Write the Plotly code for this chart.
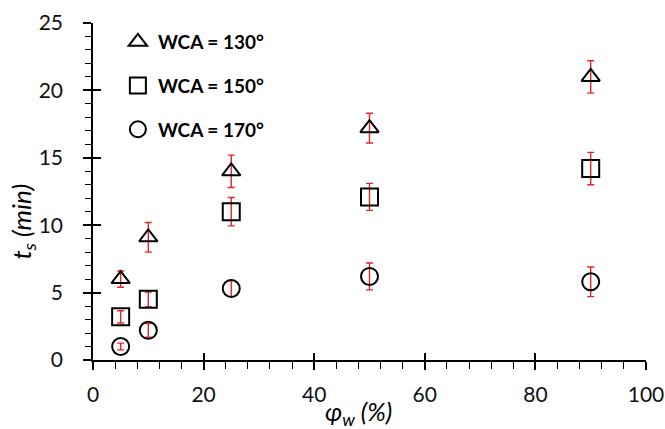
import plotly.graph_objects as go

# ---- data ----
phi_w = [5, 10, 25, 50, 90]
series_names = ["WCA = 130°", "WCA = 150°", "WCA = 170°"]
ts_130 = [6.0, 9.1, 14.0, 17.2, 21.0]
err_130 = [0.6, 1.1, 1.2, 1.1, 1.2]
ts_150 = [3.2, 4.5, 11.0, 12.1, 14.2]
err_150 = [0.45, 0.55, 1.05, 1.0, 1.2]
ts_170 = [1.0, 2.2, 5.3, 6.2, 5.8]
err_170 = [0.25, 0.5, 0.6, 1.0, 1.1]

x_ticks = [0, 20, 40, 60, 80, 100]
y_ticks = [0, 5, 10, 15, 20, 25]

FONT = "Lato"
RED = "#e3262f"
symbols = ["triangle-up-open", "square-open", "circle-open"]
sizes = [16, 17, 17]

fig = go.Figure()
for name, ys, es, sym, sz in zip(series_names, [ts_130, ts_150, ts_170],
                                 [err_130, err_150, err_170], symbols, sizes):
    fig.add_trace(go.Scatter(
        x=phi_w, y=ys, mode="markers", name=name, legendgroup=name,
        marker=dict(symbol=sym, size=sz, color="black",
                    line=dict(color="black", width=2)),
        error_y=dict(type="data", array=es, visible=True, color=RED,
                     thickness=1.4, width=3.5),
    ))

# dummy trace so the overlay axes (inner halves of the crossing ticks) are drawn
fig.add_trace(go.Scatter(x=[None], y=[None], xaxis="x2", yaxis="y2",
                         showlegend=False, hoverinfo="skip"))

axis_common = dict(showgrid=False, zeroline=False, tickcolor="black",
                   tickwidth=1.5, automargin=False)

fig.update_layout(
    width=665, height=429, autosize=False,
    margin=dict(l=93, r=19, t=23, b=69),
    paper_bgcolor="white", plot_bgcolor="white",
    font=dict(family=FONT, color="black"),
    xaxis=dict(range=[0, 100], tickvals=x_ticks, ticks="outside", ticklen=8,
               showline=True, linecolor="black", linewidth=1.5,
               tickfont=dict(family=FONT, size=21, color="#111"),
               ticklabelstandoff=7,
               minor=dict(dtick=4, tick0=0, ticks="outside", ticklen=7,
                          tickwidth=1.3, tickcolor="black", showgrid=False),
               **axis_common),
    yaxis=dict(range=[0, 25], tickvals=y_ticks, ticks="outside", ticklen=8,
               showline=True, linecolor="black", linewidth=1.5,
               tickfont=dict(family=FONT, size=21, color="#111"),
               ticklabelstandoff=16,
               minor=dict(dtick=1, tick0=0, ticks="outside", ticklen=6,
                          tickwidth=1.3, tickcolor="black", showgrid=False),
               **axis_common),
    xaxis2=dict(overlaying="x", anchor="y2", range=[0, 100], tickvals=x_ticks,
                ticks="inside", ticklen=7, showticklabels=False,
                showline=False, **axis_common),
    yaxis2=dict(overlaying="y", anchor="x2", side="left", range=[0, 25],
                tickvals=y_ticks, ticks="inside", ticklen=8,
                showticklabels=False, showline=False, **axis_common),
    legend=dict(x=0.045, y=1.0, xanchor="left", yanchor="top",
                bgcolor="rgba(0,0,0,0)", tracegroupgap=16, itemwidth=30,
                font=dict(family=FONT, size=19, color="black", weight="bold")),
    showlegend=True,
)

fig.add_annotation(text="<i>t<sub>s</sub> (min)</i>", xref="paper", yref="paper",
                   x=-0.127, y=0.41, xanchor="center", yanchor="middle",
                   textangle=-90, showarrow=False,
                   font=dict(family=FONT, size=26, color="black"))
fig.add_annotation(text="<i>φ<sub>w</sub> (%)</i>", xref="paper", yref="paper",
                   x=0.48, y=-0.156, xanchor="center", yanchor="middle",
                   showarrow=False,
                   font=dict(family=FONT, size=25, color="black"))

fig.write_html("out.html", config={"displayModeBar": False},
               post_script="document.body.style.margin='0';"
                           "document.body.style.overflow='hidden';")
